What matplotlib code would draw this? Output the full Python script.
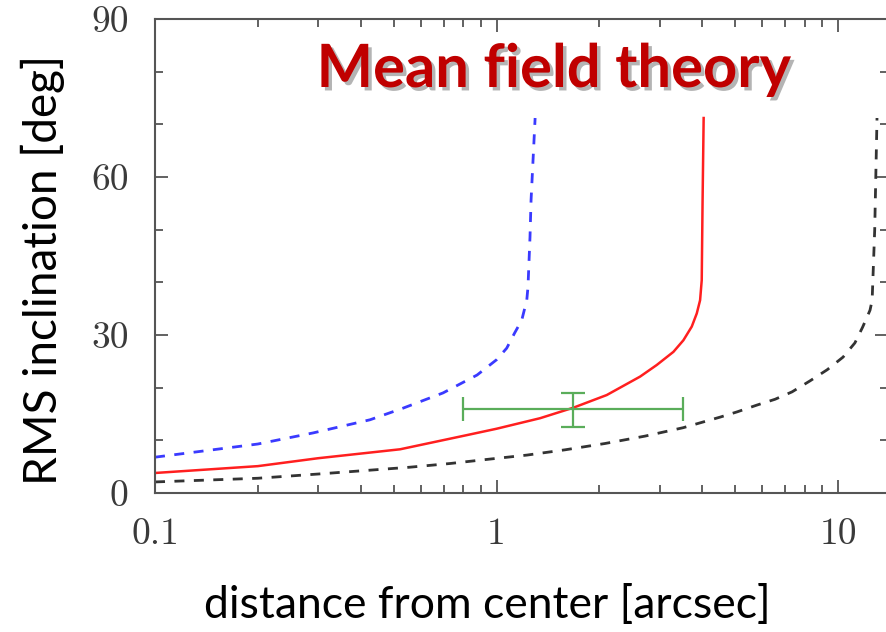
import matplotlib
matplotlib.use("Agg")
import matplotlib.pyplot as plt
import matplotlib.patheffects as pe
from matplotlib.ticker import FixedLocator, NullFormatter

# Mean-field RMS inclination curves (distance in arcsec, inclination in deg)
red_x = [0.1, 0.2, 0.3, 0.522, 0.82, 1.0, 1.341, 1.679, 2.102, 2.632, 2.944, 3.295, 3.524,
         3.729, 3.857, 3.944, 3.988, 4.01, 4.04]
red_y = [3.8, 5.1, 6.6, 8.3, 11.0, 12.2, 14.2, 16.2, 18.6, 22.1, 24.3, 26.8, 29.0,
         31.6, 34.1, 36.6, 40.4, 55.0, 71.2]

blue_x = [0.1, 0.2, 0.29, 0.426, 0.532, 0.697, 0.877, 1.0, 1.071, 1.13, 1.185, 1.226, 1.236,
          1.253, 1.262, 1.297]
blue_y = [6.8, 9.3, 11.4, 13.9, 16.1, 19.0, 22.4, 25.3, 27.5, 30.4, 32.8, 36.6, 39.1,
          48.6, 55.6, 71.2]

black_x = [0.1, 0.2, 0.3, 0.558, 0.731, 0.944, 1.228, 1.587, 2.078, 2.72, 3.52, 4.51, 5.06,
           5.79, 6.54, 7.33, 8.28, 9.29, 10.34, 11.2, 11.8, 12.4, 12.58, 12.8, 13.0]
black_y = [2.1, 2.8, 3.6, 4.9, 5.6, 6.4, 7.2, 8.2, 9.4, 10.8, 12.4, 14.4, 15.4,
           16.7, 17.8, 19.2, 21.3, 23.4, 25.8, 28.5, 31.5, 34.7, 36.6, 50.0, 71.2]

# Observed point with asymmetric errors
obs_x, obs_y = 1.67, 16.0
obs_x_lo, obs_x_hi = 0.798, 3.52
obs_y_lo, obs_y_hi = 12.5, 19.0

x_ticks = [0.1, 1, 10]
x_tick_labels = ["0.1", "1", "10"]
y_ticks = [0, 30, 60, 90]
y_tick_labels = ["0", "30", "60", "90"]

W, H = 887, 632
fig = plt.figure(figsize=(W / 100, H / 100), dpi=100)
ax = fig.add_axes([155 / W, (H - 493) / H, (888 - 155) / W, (493 - 19) / H])

ax.set_xscale("log")
ax.set_xlim(0.1, 14.0)
ax.set_ylim(0, 90)

ax.plot(black_x, black_y, color="#333333", lw=2.0, dashes=(3.6, 3.4))
ax.plot(blue_x, blue_y, color="#3a3aff", lw=2.0, dashes=(3.6, 3.4))
ax.plot(red_x, red_y, color="#ff1f1f", lw=1.8)

ax.errorbar(obs_x, obs_y,
            xerr=[[obs_x - obs_x_lo], [obs_x_hi - obs_x]],
            yerr=[[obs_y - obs_y_lo], [obs_y_hi - obs_y]],
            color="#5aad5a", lw=1.6, capsize=8.5, capthick=1.6, fmt="none")

spine_col = "#555555"
for s in ax.spines.values():
    s.set_color(spine_col)
    s.set_linewidth(1.5)

ax.xaxis.set_major_locator(FixedLocator(x_ticks))
ax.set_xticklabels(x_tick_labels)
ax.xaxis.set_minor_locator(FixedLocator(
    [m * d for d in (0.1, 1, 10) for m in range(2, 10)]))
ax.xaxis.set_minor_formatter(NullFormatter())
ax.yaxis.set_major_locator(FixedLocator(y_ticks))
ax.set_yticklabels(y_tick_labels)
ax.yaxis.set_minor_locator(FixedLocator(range(0, 91, 10)))

ax.tick_params(which="both", direction="in", top=True, right=True, color=spine_col, width=1.3)
ax.tick_params(which="major", length=9.5)
ax.tick_params(which="minor", length=5.5)
ax.tick_params(axis="x", which="major", pad=18)
ax.tick_params(axis="y", which="major", pad=19)
for lab in ax.get_xticklabels() + ax.get_yticklabels():
    lab.set_fontfamily("cmr10")
    lab.set_fontsize(27)
    lab.set_color("#3a3a3a")

fig.text(487 / W, 1 - 605 / H, "distance from center [arcsec]",
         family="Lato", fontsize=32, ha="center", va="center", color="black")
fig.text(43 / W, 1 - 270 / H, "RMS inclination [deg]",
         family="Lato", fontsize=33, ha="center", va="center", rotation=90, color="black")

fig.text(554 / W, 1 - 70 / H, "Mean field theory", family="Lato", fontweight="bold",
         fontsize=43, ha="center", va="center", color="#c00000",
         path_effects=[pe.withSimplePatchShadow(offset=(2.5, -2.5), shadow_rgbFace="#777777", alpha=0.55)])

fig.savefig("out.png", dpi=100)
